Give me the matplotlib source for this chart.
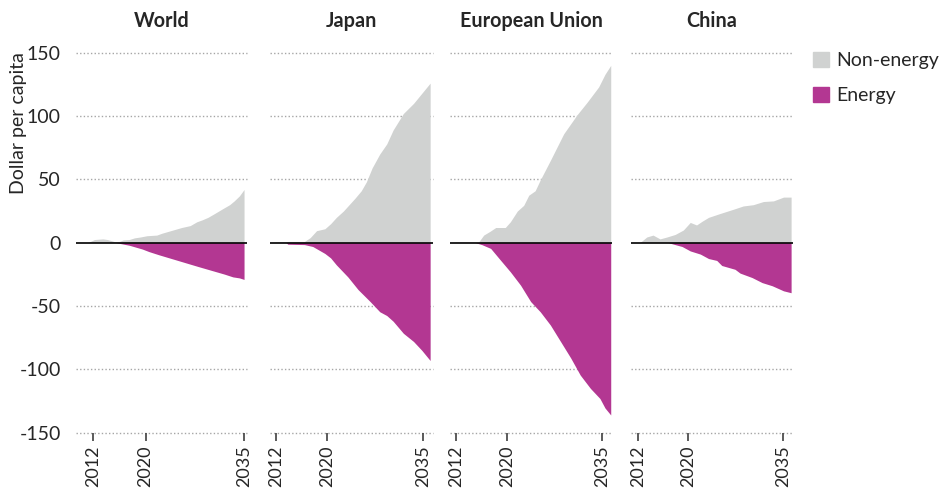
import matplotlib
matplotlib.use('Agg')
import matplotlib.pyplot as plt
from matplotlib.patches import Patch

plt.rcParams['font.family'] = ['Lato', 'DejaVu Sans']

# 数据
regions = ['World', 'Japan', 'European Union', 'China']

world_non_years = [2011.2, 2012.2, 2013.5, 2014.2, 2015.3, 2016.0, 2016.6, 2017.5, 2018.3, 2019.2, 2020.2,
                   2021.7, 2022.5, 2023.5, 2024.5, 2025.5, 2026.8, 2027.8, 2028.6, 2029.5, 2030.5, 2031.8,
                   2032.8, 2033.5, 2034.3, 2035.0]
world_non = [0, 2.5, 3, 2.5, 0.8, 1, 2.2, 2.5, 3.8, 4.5, 5.5,
             6, 7.5, 9, 10.5, 12, 13.5, 16.5, 18, 20, 23, 27,
             30, 33, 37, 42]
world_en_years = [2015.5, 2016.5, 2017.5, 2018.5, 2019.5, 2020.5, 2022.0, 2024.0, 2026.0, 2028.0, 2030.0,
                  2032.0, 2033.3, 2034.3, 2035.0]
world_en = [0, -1, -2, -3.5, -5, -7, -9.5, -12.6, -15.7, -18.8, -21.8,
            -24.8, -27, -27.8, -29]

japan_non_years = [2011.1, 2012.0, 2014.0, 2016.4, 2017.3, 2018.3, 2019.6, 2020.5, 2021.4, 2022.5, 2023.4,
                   2024.3, 2025.3, 2026.1, 2027.0, 2028.2, 2029.3, 2030.3, 2031.9, 2033.5, 2034.8, 2036.1]
japan_non = [0, 0.5, 1, 1, 4, 9.5, 11, 15, 20, 25, 30,
             35, 41, 48, 59, 70, 78, 89, 102, 110, 118, 126]
japan_en_years = [2013.5, 2013.8, 2016.4, 2017.7, 2019.6, 2020.5, 2021.4, 2023.2, 2024.8, 2026.7, 2028.2,
                  2029.3, 2030.3, 2031.9, 2033.5, 2034.8, 2036.1]
japan_en = [0, -1.2, -1.5, -3, -8.5, -12, -17.5, -27, -37, -46.5, -54.5,
            -57.5, -62, -71.5, -78, -85, -93]

eu_non_years = [2011.1, 2012.0, 2015.5, 2016.3, 2017.3, 2018.2, 2019.7, 2020.5, 2021.6, 2022.6, 2023.4,
                2024.4, 2025.2, 2026.8, 2028.9, 2031.0, 2032.6, 2034.4, 2035.4, 2036.3]
eu_non = [0, 0.5, 0.5, 6, 9, 12, 12, 16.5, 25, 29.5, 37.5,
          41, 49.5, 65, 86, 101, 111, 123, 133, 140]
eu_en_years = [2015.0, 2016.0, 2017.4, 2018.9, 2020.5, 2022.1, 2023.7, 2025.2, 2026.8, 2028.4, 2030.0,
               2031.5, 2033.1, 2034.6, 2035.4, 2036.3]
eu_en = [0, -1.5, -4.5, -13.5, -23, -33.5, -46.5, -54.5, -65, -78, -91,
         -104.5, -115, -123, -130.5, -136]

china_non_years = [2012.3, 2013.4, 2014.4, 2015.5, 2016.6, 2017.9, 2019.2, 2020.3, 2021.3, 2022.2, 2023.2,
                   2025.0, 2027.2, 2028.7, 2030.3, 2031.9, 2033.5, 2035.1, 2036.3]
china_non = [0, 4.5, 6, 3, 4.5, 6.5, 10, 16, 14, 17, 20,
             23, 26.5, 29, 30, 32.5, 33, 36, 36]
china_en_years = [2016.8, 2019.0, 2020.3, 2021.9, 2023.2, 2024.5, 2025.3, 2027.4, 2028.2, 2030.1, 2031.7,
                  2033.3, 2035.1, 2036.3]
china_en = [0, -3, -6.5, -9, -12.5, -14, -18, -21, -24, -27.5, -31.5,
            -34, -38, -39.5]

non_years = [world_non_years, japan_non_years, eu_non_years, china_non_years]
non_vals = [world_non, japan_non, eu_non, china_non]
en_years = [world_en_years, japan_en_years, eu_en_years, china_en_years]
en_vals = [world_en, japan_en, eu_en, china_en]

x_ticks = [2012, 2020, 2035]
y_ticks = [-150, -100, -50, 0, 50, 100, 150]

# 各子图的位置（像素换算）
W, H = 940, 488
panel_px = [(76, 247), (270, 432.7), (450, 612), (631, 793)]
x_lims = [(2009.4, 2035.45), (2011.0, 2036.5), (2011.0, 2036.5), (2010.9, 2036.6)]
top_px, bot_px = 52.7, 432.7

c_non = '#d0d2d1'
c_en = '#b33792'
txt_c = '#262626'
fs = 14

fig = plt.figure(figsize=(W / 100, H / 100), dpi=100)

for i, r in enumerate(regions):
    l, rgt = panel_px[i]
    ax = fig.add_axes([l / W, 1 - bot_px / H, (rgt - l) / W, (bot_px - top_px) / H])
    ax.fill_between(non_years[i], 0, non_vals[i], color=c_non, lw=0, zorder=2)
    ax.fill_between(en_years[i], 0, en_vals[i], color=c_en, lw=0, zorder=2)
    # 网格线（虚点）
    for yv in y_ticks:
        if yv != 0:
            ax.axhline(yv, color='#a6a6a6', lw=1.0, ls=(0, (1, 1.6)), zorder=1, clip_on=False)
    ax.axhline(0, color='black', lw=1.2, zorder=3)
    ax.set_xlim(*x_lims[i])
    ax.set_ylim(-150, 150)
    for s in ax.spines.values():
        s.set_visible(False)
    ax.set_xticks(x_ticks)
    ax.set_xticklabels([str(t) for t in x_ticks], rotation=90, fontsize=13, color=txt_c)
    ax.tick_params(axis='x', length=6, width=1.2, color='#404040', pad=3)
    ax.set_yticks(y_ticks)
    if i == 0:
        ax.set_yticklabels([str(t) for t in y_ticks], fontsize=fs, color=txt_c)
        ax.tick_params(axis='y', length=0, pad=11)
    else:
        ax.tick_params(axis='y', length=0, labelleft=False)
    ax.text(0.5, 1.084, r, transform=ax.transAxes, ha='center', va='center',
            fontsize=14.2, fontweight='bold', color=txt_c)

fig.text(18.5 / W, 1 - 123 / H, 'Dollar per capita', rotation=90, ha='center', va='center',
         fontsize=fs, color=txt_c)

handles = [Patch(color=c_non, label='Non-energy'), Patch(color=c_en, label='Energy')]
fig.legend(handles=handles, loc='upper left', bbox_to_anchor=(813 / W, 1 - 52 / H),
           frameon=False, fontsize=fs, handlelength=0.82, handleheight=0.82,
           handletextpad=0.4, labelspacing=0.9, borderpad=0, borderaxespad=0,
           labelcolor=txt_c)

fig.savefig('out.png', dpi=100)
